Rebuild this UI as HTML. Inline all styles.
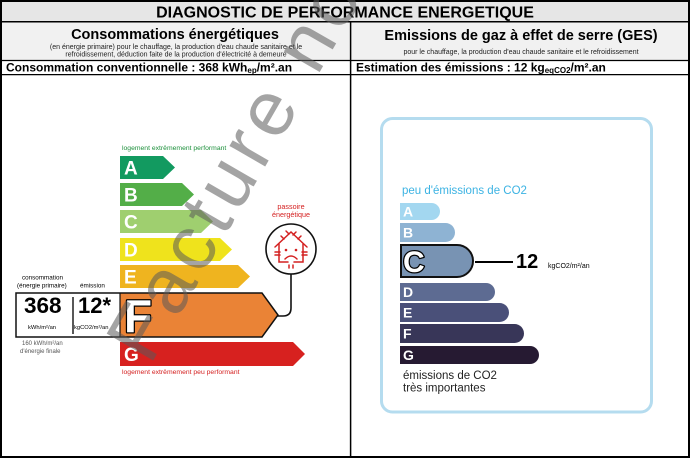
<!DOCTYPE html>
<html>
<head>
<meta charset="utf-8">
<style>
  html,body{margin:0;padding:0;background:#fff;}
  body{width:690px;height:458px;overflow:hidden;}
  svg{display:block;}
  text{font-family:"Liberation Sans",Arial,sans-serif;}
</style>
</head>
<body>
<svg width="690" height="458" viewBox="0 0 690 458" xmlns="http://www.w3.org/2000/svg">
  <rect x="0" y="0" width="690" height="458" fill="#fff"/>
  <!-- header backgrounds -->
  <rect x="1" y="1" width="688" height="20.5" fill="#e6e6e6"/>
  <rect x="1" y="22" width="688" height="38.5" fill="#f1f1f1"/>

  <!-- table lines -->
  <rect x="1" y="1" width="688" height="456" fill="none" stroke="#000" stroke-width="2"/>
  <line x1="0" y1="21.7" x2="690" y2="21.7" stroke="#000" stroke-width="1.5"/>
  <line x1="0" y1="60.5" x2="690" y2="60.5" stroke="#000" stroke-width="1.3"/>
  <line x1="0" y1="74.6" x2="690" y2="74.6" stroke="#000" stroke-width="1.3"/>
  <line x1="350.6" y1="21" x2="350.6" y2="458" stroke="#000" stroke-width="1.5"/>

  <!-- header texts -->
  <text x="345" y="17.3" text-anchor="middle" font-size="16" font-weight="bold" fill="#000">DIAGNOSTIC DE PERFORMANCE ENERGETIQUE</text>

  <text x="175" y="39" text-anchor="middle" font-size="14.5" font-weight="bold" fill="#000">Consommations énergétiques</text>
  <text x="176" y="49" text-anchor="middle" font-size="7" fill="#222">(en énergie primaire) pour le chauffage, la production d'eau chaude sanitaire et le</text>
  <text x="176" y="56.6" text-anchor="middle" font-size="7" fill="#222">refroidissement, déduction faite de la production d'électricité à demeure</text>

  <text x="521" y="40" text-anchor="middle" font-size="14.5" font-weight="bold" fill="#000">Emissions de gaz à effet de serre (GES)</text>
  <text x="521" y="54" text-anchor="middle" font-size="7" fill="#222">pour le chauffage, la production d'eau chaude sanitaire et le refroidissement</text>

  <text x="6" y="71.5" font-size="12" font-weight="bold" fill="#000">Consommation conventionnelle : 368 kWh<tspan font-size="8" dy="1.5">ep</tspan><tspan dy="-1.5">/m².an</tspan></text>
  <text x="356" y="71.5" font-size="12" font-weight="bold" fill="#000">Estimation des émissions : 12 kg<tspan font-size="8" dy="1.5">eqCO2</tspan><tspan dy="-1.5">/m².an</tspan></text>

  <!-- ============ ENERGY LABEL (left) ============ -->
  <text x="122" y="150" font-size="6.8" fill="#1b8f3a">logement extrêmement performant</text>

  <polygon points="120,156 163,156 175,167.5 163,179 120,179" fill="#129a60"/>
  <polygon points="120,183 182,183 194,194.5 182,206 120,206" fill="#53ae48"/>
  <polygon points="120,210 201,210 213,221.5 201,233 120,233" fill="#9fcf6f"/>
  <polygon points="120,238 220,238 232,249.5 220,261 120,261" fill="#efe31c"/>
  <polygon points="120,265 238,265 250,276.5 238,288 120,288" fill="#efb41f"/>
  <polygon points="120,293 262,293 278,315 262,337 120,337" fill="#ea8336"/>
  <polygon points="120,342 293,342 305,354 293,366 120,366" fill="#d7211f"/>

  <g font-size="19" font-weight="bold" fill="#fff">
    <text x="124" y="174.5">A</text>
    <text x="124" y="201.5">B</text>
    <text x="124" y="228.5">C</text>
    <text x="124" y="256.5">D</text>
    <text x="124" y="283.5">E</text>
    <text x="124" y="361">G</text>
  </g>
  <text x="124" y="332" font-size="46" font-weight="bold" fill="#fff" stroke="#000" stroke-width="2.5" paint-order="stroke" stroke-linejoin="round">F</text>

  <text x="122" y="374" font-size="6.8" fill="#d42020">logement extrêmement peu performant</text>

  <!-- consumption box -->
  <text x="22" y="279.5" font-size="6.3" fill="#000">consommation</text>
  <text x="17" y="287.5" font-size="6.3" fill="#000">(énergie primaire)</text>
  <text x="80" y="287.5" font-size="6.3" fill="#000">émission</text>
  <rect x="16" y="293" width="104" height="44" fill="#fff"/>
  <path d="M16,293 L262,293 L278,315 L262,337 L16,337 Z" fill="none" stroke="#111" stroke-width="1.5" stroke-linejoin="miter"/>
  <line x1="120" y1="293" x2="120" y2="337" stroke="#111" stroke-width="1.2"/>
  <text x="24" y="313" font-size="22.5" font-weight="bold" fill="#000">368</text>
  <line x1="73" y1="297" x2="73" y2="334" stroke="#111" stroke-width="1.4"/>
  <text x="78" y="313" font-size="22" font-weight="bold" fill="#000">12*</text>
  <text x="28" y="329" font-size="5.8" fill="#000">kWh/m²/an</text>
  <text x="74" y="329" font-size="5.8" fill="#000">kgCO2/m²/an</text>
  <text x="22" y="345" font-size="6" fill="#555">160 kWh/m²/an</text>
  <text x="20" y="353" font-size="6" fill="#555">d'énergie finale</text>

  <!-- passoire -->
  <text x="291" y="209" text-anchor="middle" font-size="7.2" fill="#d42020">passoire</text>
  <text x="291" y="217" text-anchor="middle" font-size="7.2" fill="#d42020">énergétique</text>
  <circle cx="291" cy="249" r="25" fill="#fff" stroke="#111" stroke-width="1.6"/>
  <path d="M291,274 L291,308 Q291,316 283,316 L277,316" fill="none" stroke="#111" stroke-width="1.6"/>
  <g stroke="#d42020" stroke-width="1.5" fill="none" stroke-linecap="round">
    <path d="M275,247 L291,232 L307,247"/>
    <path d="M279,244 V262 H288 M294,262 H303 V244"/>
    <path d="M281,236 l3,3 M286,231 l3,3 M296,232 l-3,3 M301,236 l-3,3"/>
    <path d="M275,252 h5 M275,255 h5 M302,252 h5 M302,255 h5"/>
    <path d="M289,265 v3 M293,265 v3"/>
    <path d="M285,259 Q291,253 297,259"/>
  </g>
  <circle cx="286" cy="250" r="1.3" fill="#d42020"/>
  <circle cx="296" cy="250" r="1.3" fill="#d42020"/>

  <!-- ============ GES LABEL (right) ============ -->
  <rect x="381.5" y="118.5" width="270" height="293.5" rx="11" ry="11" fill="#fff" stroke="#b5dcef" stroke-width="3"/>
  <text x="402" y="194" font-size="11.5" fill="#3cb3e3">peu d'émissions de CO2</text>

  <path d="M400,203 H431.5 A8.5,8.5 0 0 1 431.5,220 H400 Z" fill="#a3d7f0"/>
  <path d="M400,223 H445.5 A9.5,9.5 0 0 1 445.5,242 H400 Z" fill="#8eb3d3"/>
  <path d="M401,245 H457 A16,16 0 0 1 457,277 H401 Z" fill="#7893b3" stroke="#111" stroke-width="2"/>
  <path d="M400,283 H486 A9,9 0 0 1 486,301 H400 Z" fill="#5d6b92"/>
  <path d="M400,303 H499.5 A9.5,9.5 0 0 1 499.5,322 H400 Z" fill="#4a5079"/>
  <path d="M400,324 H514.5 A9.5,9.5 0 0 1 514.5,343 H400 Z" fill="#383658"/>
  <path d="M400,346 H530 A9,9 0 0 1 530,364 H400 Z" fill="#261a32"/>

  <g font-size="14" font-weight="bold" fill="#fff">
    <text x="403" y="216.5">A</text>
    <text x="403" y="237.5">B</text>
    <text x="403" y="297">D</text>
    <text x="403" y="317.5">E</text>
    <text x="403" y="338.5">F</text>
    <text x="403" y="360">G</text>
  </g>
  <text x="403" y="272" font-size="30" font-weight="bold" fill="#fff" stroke="#000" stroke-width="2.5" paint-order="stroke" stroke-linejoin="round">C</text>

  <line x1="475" y1="262" x2="513" y2="262" stroke="#000" stroke-width="2"/>
  <text x="516" y="268" font-size="20" font-weight="bold" fill="#000">12</text>
  <text x="548" y="268" font-size="7" fill="#000">kgCO2/m²/an</text>

  <text x="403" y="379" font-size="11.5" fill="#222">émissions de CO2</text>
  <text x="403" y="391.5" font-size="11.5" fill="#222">très importantes</text>

  <!-- watermark -->
  <text transform="translate(150,366) rotate(-60)" font-size="78" letter-spacing="6" fill="#5a5a5a" fill-opacity="0.55">Facture non</text>
</svg>
</body>
</html>
